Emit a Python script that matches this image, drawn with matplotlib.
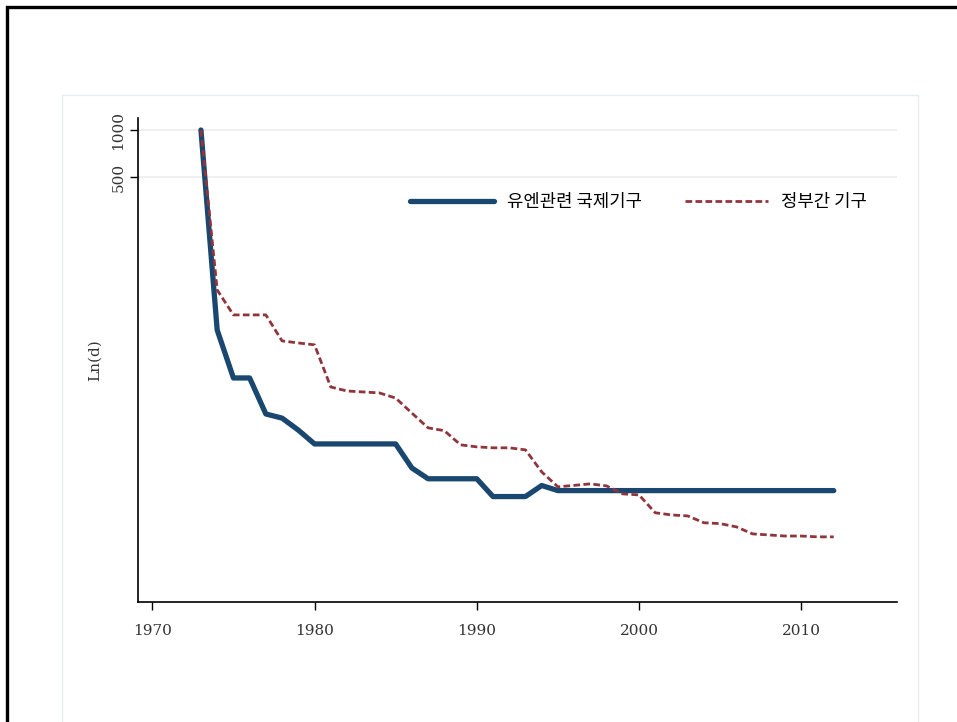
import matplotlib.pyplot as plt
from matplotlib.patches import Rectangle
from matplotlib.ticker import FixedLocator, NullLocator

plt.rcParams['font.family'] = ['Noto Sans CJK KR', 'DejaVu Sans']

years = list(range(1973, 2013))

# 유엔관련 국제기구
un_related = [1000, 52.2, 25.7, 25.7, 15.1, 14.2, 11.9, 9.7, 9.7, 9.7,
              9.7, 9.7, 9.7, 6.8, 5.8, 5.8, 5.8, 5.8, 4.46, 4.46,
              4.46, 5.25, 4.87, 4.87, 4.87, 4.87, 4.87, 4.87, 4.87, 4.87,
              4.87, 4.87, 4.87, 4.87, 4.87, 4.87, 4.87, 4.87, 4.87, 4.87]

# 정부간 기구
intergov = [1000, 94.2, 65.2, 65.2, 65.2, 44.4, 43.1, 41.9, 22.5, 21.2,
            20.9, 20.6, 19.1, 15.3, 12.3, 11.8, 9.57, 9.29, 9.16, 9.16,
            8.89, 6.42, 5.15, 5.26, 5.38, 5.22, 4.64, 4.57, 3.51, 3.40,
            3.35, 3.03, 2.99, 2.85, 2.57, 2.53, 2.49, 2.49, 2.46, 2.46]

labels = ["유엔관련 국제기구", "정부간 기구"]
xticks = [1970, 1980, 1990, 2000, 2010]
yticks = [500, 1000]

fig = plt.figure(figsize=(9.57, 7.22), dpi=100)

# outer frame and plot region outline
fig.patches.append(Rectangle((7 / 957, -0.2), 1.2, 1.2 - 7 / 722,
                             transform=fig.transFigure, fill=False,
                             edgecolor="black", lw=2.4))
fig.patches.append(Rectangle((62 / 957, -0.1), (918 - 62) / 957, 1.1 - 95 / 722,
                             transform=fig.transFigure, fill=False,
                             edgecolor="#e6edf1", lw=1))

ax = fig.add_axes([138 / 957, 1 - 602 / 722, (897 - 138) / 957, (602 - 118) / 722])

ax.plot(years, un_related, color="#1a476f", lw=3.8, solid_capstyle="round",
        label=labels[0], zorder=3)
ax.plot(years, intergov, color="#90353b", lw=2.0, ls=(0, (2.4, 1.2)),
        label=labels[1], zorder=4)

ax.set_yscale("log")
ax.set_ylim(0.94, 1194)
ax.set_xlim(1969.12, 2015.9)

ax.yaxis.set_major_locator(FixedLocator(yticks))
ax.yaxis.set_minor_locator(NullLocator())
ax.set_yticklabels([str(v) for v in yticks], rotation=90, va="center",
                   family="DejaVu Serif", fontsize=11, color="#333333")
ax.set_xticks(xticks)
ax.set_xticklabels([str(v) for v in xticks], family="DejaVu Serif",
                   fontsize=11, color="#333333")
ax.tick_params(axis="both", length=6, width=1, direction="out")
ax.tick_params(axis="x", pad=10)
ax.tick_params(axis="y", pad=3)

for y in yticks:
    ax.axhline(y, color="#ececec", lw=1.2, zorder=1)

for s in ["top", "right"]:
    ax.spines[s].set_visible(False)
for s in ["left", "bottom"]:
    ax.spines[s].set_linewidth(1.2)

ax.set_ylabel("Ln(d)", family="DejaVu Serif", fontsize=11, color="#333333",
              labelpad=7)

ax.legend(loc="center left", bbox_to_anchor=(0.359, 0.826), ncol=2,
          frameon=False, fontsize=12.8, handlelength=4.7, handletextpad=0.73,
          columnspacing=2.4, borderpad=0, borderaxespad=0)

fig.savefig("out.png", dpi=100)
